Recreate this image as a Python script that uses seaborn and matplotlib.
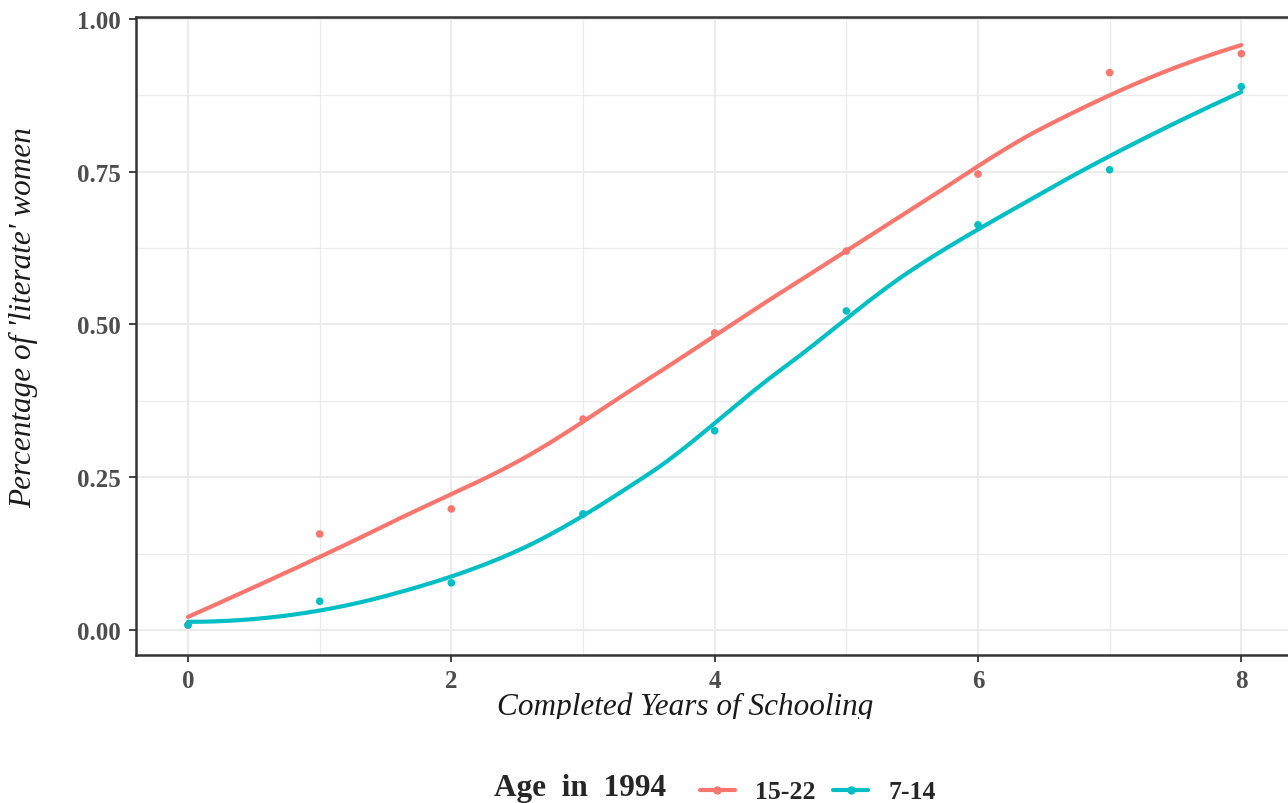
import numpy as np
import pandas as pd
import matplotlib
matplotlib.use("Agg")
import matplotlib.pyplot as plt
import seaborn as sns
from matplotlib.lines import Line2D
from matplotlib.transforms import Bbox

# ---- data ----
years = [0, 1, 2, 3, 4, 5, 6, 7, 8]
lit_15_22 = [0.008, 0.157, 0.198, 0.345, 0.486, 0.620, 0.746, 0.912, 0.943]
lit_7_14 = [0.008, 0.047, 0.077, 0.190, 0.326, 0.522, 0.663, 0.753, 0.889]
groups = ["15-22", "7-14"]
colors = ["#F8766D", "#00BFC4"]
x_ticks = [0, 2, 4, 6, 8]
y_ticks = [0.00, 0.25, 0.50, 0.75, 1.00]
y_tick_labels = ["0.00", "0.25", "0.50", "0.75", "1.00"]


def local_fit(x, y, x0, span=0.75):
    n = len(x)
    q = int(np.floor(n * span))
    d = np.abs(x - x0)
    ds = np.sort(d)
    # bandwidth halfway between q-th and (q+1)-th neighbour distance
    h = 0.5 * (ds[q - 1] + ds[min(q, n - 1)])
    w = np.clip(1 - (d / h) ** 3, 0, None) ** 3
    X = np.vstack([np.ones_like(x), x - x0, (x - x0) ** 2]).T
    W = np.diag(w)
    beta = np.linalg.lstsq(X.T @ W @ X, X.T @ W @ y, rcond=None)[0]
    return beta[0], beta[1]


def loess(x, y, xs, span=0.75):
    """loess (degree 2) evaluated at kd-tree style vertices, cubic Hermite in between."""
    x = np.asarray(x, float)
    y = np.asarray(y, float)
    mu = 0.005 * (x.max() - x.min())
    mids = (x[:-1] + x[1:]) / 2
    verts = np.concatenate([[x.min() - mu], mids, [x.max() + mu]])
    vals = np.array([local_fit(x, y, v, span) for v in verts])
    out = []
    for xx in xs:
        i = min(max(np.searchsorted(verts, xx, side="right") - 1, 0), len(verts) - 2)
        x0, x1 = verts[i], verts[i + 1]
        hgt = x1 - x0
        t = (xx - x0) / hgt
        f0, d0 = vals[i]
        f1, d1 = vals[i + 1]
        h00 = 2 * t**3 - 3 * t**2 + 1
        h10 = t**3 - 2 * t**2 + t
        h01 = -2 * t**3 + 3 * t**2
        h11 = t**3 - t**2
        out.append(h00 * f0 + h10 * hgt * d0 + h01 * f1 + h11 * hgt * d1)
    return np.array(out)


pts = pd.DataFrame({
    "years": years * 2,
    "lit": lit_15_22 + lit_7_14,
    "age": [groups[0]] * len(years) + [groups[1]] * len(years),
})
xs = np.linspace(0, 8, 240)
smooth = pd.concat([
    pd.DataFrame({"years": xs, "lit": loess(years, lit_15_22, xs), "age": groups[0]}),
    pd.DataFrame({"years": xs, "lit": loess(years, lit_7_14, xs), "age": groups[1]}),
])

sns.set_theme(style="white")
plt.rcParams["font.family"] = ["Liberation Serif", "DejaVu Serif"]

W, H = 1288, 804
fig = plt.figure(figsize=(W / 100, H / 100), dpi=100)
ax = fig.add_axes([136 / W, 1 - 656 / H, (1294 - 136) / W, (656 - 18) / H])
palette = dict(zip(groups, colors))

sns.lineplot(data=smooth, x="years", y="lit", hue="age", palette=palette,
             linewidth=3.0, ax=ax, legend=False)
sns.scatterplot(data=pts, x="years", y="lit", hue="age", palette=palette,
                s=30, linewidth=0, ax=ax, legend=False, zorder=3)

ax.set_xlim(-0.395, 8.4)
ax.set_ylim(-0.041, 1.003)
ax.set_xticks(x_ticks)
ax.set_xticks([1, 3, 5, 7], minor=True)
ax.set_yticks(y_ticks)
ax.set_yticklabels(y_tick_labels)
ax.set_yticks([0.125, 0.375, 0.625, 0.875], minor=True)
ax.grid(which="major", color="#EBEBEB", linewidth=1.5)
ax.grid(which="minor", color="#EBEBEB", linewidth=0.9)
ax.set_axisbelow(True)
for s in ax.spines.values():
    s.set_color("#333333")
    s.set_linewidth(1.8)
ax.tick_params(axis="both", which="major", length=5, width=1.3, color="#333333",
               labelsize=18, labelcolor="#4D4D4D", bottom=True, left=True)
ax.tick_params(axis="x", which="major", pad=5)
ax.tick_params(axis="y", which="major", pad=6)
ax.tick_params(axis="both", which="minor", length=0)
for lab in ax.get_xticklabels() + ax.get_yticklabels():
    lab.set_fontweight("bold")

ax.set_xlabel("")
ax.set_ylabel("")
xl = fig.text(685 / W, 1 - 707 / H, "Completed Years of Schooling", fontsize=22.5,
              fontstyle="italic", ha="center", va="center", color="#1a1a1a")
xl.set_clip_box(Bbox([[0, H - 720], [W, H]]))
xl.set_clip_on(True)
fig.text(24 / W, 1 - 318 / H, "Percentage of 'literate' women", fontsize=22.5,
         fontstyle="italic", ha="center", va="center", rotation=90, color="#1a1a1a")

handles = [Line2D([0], [0], color=c, linewidth=3.0, marker="o", markersize=5) for c in colors]
fig.text(494 / W, 1 - 789 / H, "Age  in  1994", fontsize=22.5, fontweight="bold",
         ha="left", va="center")
fig.legend(handles, groups, loc="center left", bbox_to_anchor=(700 / W, 1 - 793 / H),
           ncol=2, frameon=False, borderpad=0, borderaxespad=0, handlelength=1.36,
           columnspacing=0.7, handletextpad=0.78, prop={"size": 18.5, "weight": "bold"})

fig.savefig("out.png", dpi=100)
